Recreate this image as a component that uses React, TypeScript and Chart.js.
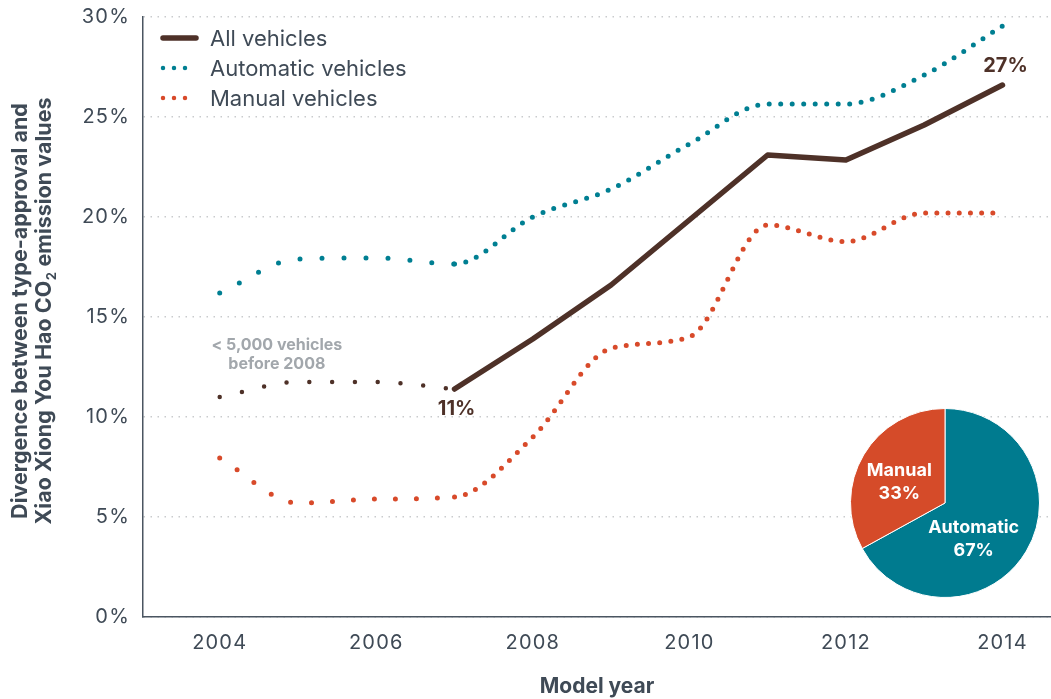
import React, { useEffect, useRef } from 'react';
import { Chart, registerables } from 'chart.js';

Chart.register(...registerables);

// ---------- data ----------
const years = [2004, 2005, 2006, 2007, 2008, 2009, 2010, 2011, 2012, 2013, 2014];
const allVehicles = [11.0, 11.75, 11.75, 11.4, 13.9, 16.6, 19.85, 23.1, 22.85, 24.6, 26.6];
const automaticVehicles = [16.2, 17.9, 17.95, 17.65, 20.0, 21.4, 23.65, 25.65, 25.65, 27.1, 29.55];
const manualVehicles = [7.95, 5.7, 5.9, 6.0, 9.0, 13.43, 14.0, 19.6, 18.77, 20.2, 20.2];
const seriesNames = ['All vehicles', 'Automatic vehicles', 'Manual vehicles'];
const xTickValues = [2004, 2006, 2008, 2010, 2012, 2014];
const yTickValues = [0, 5, 10, 15, 20, 25, 30];
const pieLabels = ['Automatic', 'Manual'];
const pieShares = [67, 33];
const smallSampleNote = ['< 5,000 vehicles', 'before 2008'];
const xTitle = 'Model year';
const yTitleLine1 = 'Divergence between type-approval and';
const yTitleLine2 = ['Xiao Xiong You Hao CO', '2', ' emission values']; // text, subscript, text
const splitIndex = 3; // 2007: sparse sample before, full sample after

// ---------- styles ----------
const FONT = 'Inter, "Open Sans", "Noto Sans", sans-serif';
const BROWN = '#4e3128';
const TEAL = '#007f92';
const ORANGE = '#d84a2a';
const PIE_TEAL = '#007b8f';
const PIE_ORANGE = '#d54b29';
const SLATE = '#3f4a56';
const GRID = '#c9cbcd';
const NOTE = '#a2a7ac';

const pts = (vals: number[], from: number, to: number) =>
  years.slice(from, to + 1).map((x, i) => ({ x, y: vals[from + i] }));

const spacingPlugin = {
  id: 'tickSpacing',
  beforeDraw(chart: any) {
    chart.ctx.letterSpacing = '1.2px';
  },
  afterDraw(chart: any) {
    chart.ctx.letterSpacing = '0px';
  },
};

const legendPlugin = {
  id: 'insideLegend',
  afterDatasetsDraw(chart: any) {
    const ctx = chart.ctx;
    const items = [
      { label: seriesNames[0], color: BROWN, dash: [] as number[], width: 5.5 },
      { label: seriesNames[1], color: TEAL, dash: [0, 11], width: 4.5 },
      { label: seriesNames[2], color: ORANGE, dash: [0, 11], width: 4.5 },
    ];
    const left = chart.chartArea.left;
    const top = chart.chartArea.top;
    items.forEach((it, i) => {
      const y = top + 21 + i * 30;
      ctx.save();
      ctx.letterSpacing = '0px';
      ctx.strokeStyle = it.color;
      ctx.lineWidth = it.width;
      ctx.lineCap = 'round';
      ctx.setLineDash(it.dash);
      ctx.beginPath();
      ctx.moveTo(left + 20, y);
      ctx.lineTo(left + 53, y);
      ctx.stroke();
      ctx.setLineDash([]);
      ctx.fillStyle = SLATE;
      ctx.font = `22px ${FONT}`;
      ctx.textBaseline = 'middle';
      ctx.textAlign = 'left';
      ctx.fillText(it.label, left + 67, y + 1);
      ctx.restore();
    });
  },
};

const annotationPlugin = {
  id: 'annotations',
  afterDatasetsDraw(chart: any) {
    const ctx = chart.ctx;
    const xs = chart.scales.x;
    const ys = chart.scales.y;
    const last = allVehicles.length - 1;
    ctx.save();
    ctx.letterSpacing = '0px';
    ctx.textAlign = 'center';
    ctx.textBaseline = 'middle';
    ctx.fillStyle = BROWN;
    ctx.font = `bold 20px ${FONT}`;
    ctx.fillText(
      `${Math.round(allVehicles[last])}%`,
      xs.getPixelForValue(years[last]) + 3,
      ys.getPixelForValue(allVehicles[last]) - 19
    );
    ctx.fillText(
      `${Math.round(allVehicles[splitIndex])}%`,
      xs.getPixelForValue(years[splitIndex]) + 2,
      ys.getPixelForValue(allVehicles[splitIndex]) + 20
    );
    ctx.fillStyle = NOTE;
    ctx.font = `bold 16px ${FONT}`;
    const nx = xs.getPixelForValue(2004.73);
    const ny = ys.getPixelForValue(13.6);
    ctx.fillText(smallSampleNote[0], nx, ny);
    ctx.fillText(smallSampleNote[1], nx, ny + 19);
    ctx.restore();
  },
};

const titlePlugin = {
  id: 'axisTitles',
  afterDraw(chart: any) {
    const ctx = chart.ctx;
    const ca = chart.chartArea;
    ctx.save();
    ctx.letterSpacing = '0px';
    ctx.fillStyle = SLATE;
    ctx.textBaseline = 'middle';
    // x title
    ctx.font = `bold 21px ${FONT}`;
    ctx.textAlign = 'center';
    ctx.fillText(xTitle, (ca.left + ca.right) / 2, ca.bottom + 69.5);
    // y title, rotated
    const cy = (ca.top + ca.bottom) / 2 - 6;
    ctx.translate(21, cy);
    ctx.rotate(-Math.PI / 2);
    ctx.font = `bold 21.5px ${FONT}`;
    ctx.fillText(yTitleLine1, 0, 0);
    const mainFont = `bold 21.5px ${FONT}`;
    const subFont = `bold 13px ${FONT}`;
    ctx.font = mainFont;
    const w0 = ctx.measureText(yTitleLine2[0]).width;
    const w2 = ctx.measureText(yTitleLine2[2]).width;
    ctx.font = subFont;
    const w1 = ctx.measureText(yTitleLine2[1]).width + 1;
    const total = w0 + w1 + w2;
    let x = -total / 2;
    ctx.textAlign = 'left';
    ctx.font = mainFont;
    ctx.fillText(yTitleLine2[0], x, 24);
    x += w0;
    ctx.font = subFont;
    ctx.fillText(yTitleLine2[1], x + 0.5, 31);
    x += w1;
    ctx.font = mainFont;
    ctx.fillText(yTitleLine2[2], x, 24);
    ctx.restore();
  },
};

const pieLabelPlugin = {
  id: 'pieLabels',
  afterDatasetsDraw(chart: any) {
    const ctx = chart.ctx;
    const meta = chart.getDatasetMeta(0);
    const offsets = [
      [-12, 12],
      [-5, 3],
    ];
    ctx.save();
    ctx.fillStyle = '#ffffff';
    ctx.textAlign = 'center';
    ctx.textBaseline = 'middle';
    ctx.font = `bold 18px ${FONT}`;
    meta.data.forEach((arc: any, i: number) => {
      const p = arc.tooltipPosition();
      const cx = p.x + offsets[i][0];
      const cy = p.y + offsets[i][1];
      ctx.fillText(pieLabels[i], cx, cy - 11);
      ctx.fillText(`${pieShares[i]}%`, cx, cy + 12);
    });
    ctx.restore();
  },
};

export default function App() {
  const mainRef = useRef<HTMLCanvasElement>(null);
  const pieRef = useRef<HTMLCanvasElement>(null);

  useEffect(() => {
    document.body.style.margin = '0';
    const main = new Chart(mainRef.current as HTMLCanvasElement, {
      type: 'line',
      data: {
        datasets: [
          {
            label: seriesNames[1],
            data: pts(automaticVehicles, 0, years.length - 1),
            borderColor: TEAL,
            borderWidth: 5,
            borderCapStyle: 'round',
            cubicInterpolationMode: 'monotone',
            pointRadius: 0,
            segment: {
              borderDash: (c: any) => (c.p0DataIndex < splitIndex ? [0, 22] : [0, 11.5]),
            },
          } as any,
          {
            label: seriesNames[2],
            data: pts(manualVehicles, 0, years.length - 1),
            borderColor: ORANGE,
            borderWidth: 5,
            borderCapStyle: 'round',
            cubicInterpolationMode: 'monotone',
            pointRadius: 0,
            segment: {
              borderDash: (c: any) => (c.p0DataIndex < splitIndex ? [0, 21] : [0, 11.2]),
            },
          } as any,
          {
            label: seriesNames[0] + ' (small sample)',
            data: pts(allVehicles, 0, splitIndex),
            borderColor: BROWN,
            borderWidth: 4.5,
            borderCapStyle: 'round',
            borderDash: [0, 22.8],
            cubicInterpolationMode: 'monotone',
            pointRadius: 0,
          } as any,
          {
            label: seriesNames[0],
            data: pts(allVehicles, splitIndex, years.length - 1),
            borderColor: BROWN,
            borderWidth: 5.5,
            borderCapStyle: 'round',
            borderJoinStyle: 'round',
            tension: 0,
            pointRadius: 0,
          } as any,
        ],
      },
      options: {
        responsive: false,
        animation: false,
        layout: { padding: { top: 17, right: 0, bottom: 0, left: 0 } },
        plugins: { legend: { display: false }, tooltip: { enabled: false } },
        scales: {
          x: {
            type: 'linear',
            min: 2003.02,
            max: 2014.62,
            afterBuildTicks: (s: any) => {
              s.ticks = xTickValues.map((v) => ({ value: v }));
            },
            afterFit: (s: any) => {
              s.height = 82;
              s.paddingLeft = 0;
              s.paddingRight = 0;
            },
            grid: { display: false, drawTicks: false },
            border: { display: true, color: '#4a5561', width: 1.5 },
            ticks: {
              color: SLATE,
              padding: 14,
              font: { family: FONT, size: 20 },
              callback: (v: any) => String(v),
            },
          },
          y: {
            type: 'linear',
            min: 0,
            max: 30,
            afterBuildTicks: (s: any) => {
              s.ticks = yTickValues.map((v) => ({ value: v }));
            },
            afterFit: (s: any) => {
              s.width = 143;
              s.paddingTop = 0;
              s.paddingBottom = 0;
            },
            grid: { color: GRID, lineWidth: 1.5, drawTicks: false },
            border: { display: true, color: '#4a5561', width: 1.5, dash: [1.5, 5.5] },
            ticks: {
              color: SLATE,
              padding: 13,
              font: { family: FONT, size: 20 },
              callback: (v: any) => `${v}%`,
            },
          },
        },
      } as any,
      plugins: [spacingPlugin, legendPlugin, annotationPlugin, titlePlugin],
    });

    const pie = new Chart(pieRef.current as HTMLCanvasElement, {
      type: 'pie',
      data: {
        labels: pieLabels,
        datasets: [
          {
            data: pieShares,
            backgroundColor: [PIE_TEAL, PIE_ORANGE],
            borderColor: '#ffffff',
            borderWidth: 1,
          },
        ],
      },
      options: {
        responsive: false,
        animation: false,
        layout: { padding: 5 },
        plugins: { legend: { display: false }, tooltip: { enabled: false } },
      } as any,
      plugins: [pieLabelPlugin],
    });

    return () => {
      main.destroy();
      pie.destroy();
    };
  }, []);

  return (
    <div style={{ position: 'relative', width: 1051, height: 699 }}>
      <canvas ref={mainRef} width={1051} height={699} style={{ position: 'absolute', left: 0, top: 0 }} />
      <canvas ref={pieRef} width={200} height={200} style={{ position: 'absolute', left: 845, top: 403 }} />
    </div>
  );
}
